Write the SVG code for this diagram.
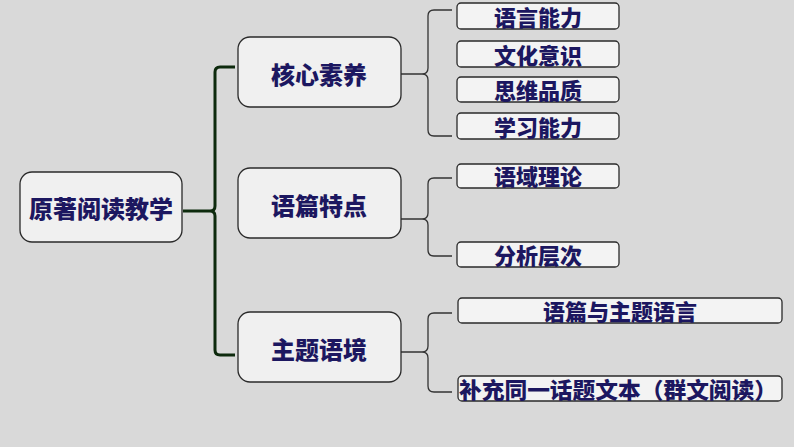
<svg xmlns="http://www.w3.org/2000/svg" width="794" height="447" viewBox="0 0 794 447">
<style>
.n{fill:#f0f0f0;stroke:#2a2a2a;stroke-width:1.3}
.l{fill:#f3f3f3;stroke:#2a2a2a;stroke-width:1.3}
text{font-family:"Noto Sans CJK SC",sans-serif;font-weight:900;fill:#1c1760;text-anchor:middle;dominant-baseline:central}
.b{font-size:24px}.s{font-size:22px}
.c{fill:none;stroke:#333;stroke-width:1.3}
.m{fill:none;stroke:#0d2a0d;stroke-width:3}
</style>
<rect width="794" height="447" fill="#d9d9d9"/>
<g id="connectors">
<path class="m" d="M183,211 H210 Q215,211 215,206 V72 Q215,67 220,67 H235 M210,211 Q215,211 215,216 V350 Q215,355 220,355 H235"/>
<path class="c" d="M401,74 H422 Q428,74 428,68 V16 Q428,10 434,10 H452 M422,74 Q428,74 428,80 V130 Q428,136 434,136 H452"/>
<path class="c" d="M401,219 H422 Q428,219 428,213 V184 Q428,178 434,178 H452 M422,219 Q428,219 428,225 V250 Q428,256 434,256 H452"/>
<path class="c" d="M401,352 H422 Q428,352 428,346 V319 Q428,313 434,313 H452 M422,352 Q428,352 428,358 V386 Q428,392 434,392 H452"/>
</g>
<g id="root"><rect class="n" x="20" y="172" width="162" height="70" rx="12"/><text class="b" x="101" y="207">原著阅读教学</text></g>
<g id="n1"><rect class="n" x="238" y="37" width="163" height="70" rx="12"/><text class="b" x="319" y="73">核心素养</text></g>
<g id="n2"><rect class="n" x="238" y="168" width="163" height="70" rx="12"/><text class="b" x="319" y="204">语篇特点</text></g>
<g id="n3"><rect class="n" x="238" y="312" width="163" height="70" rx="12"/><text class="b" x="319" y="348">主题语境</text></g>
<g id="l1"><rect class="l" x="457" y="3" width="162" height="26" rx="4"/><text class="s" x="538" y="16">语言能力</text></g>
<g id="l2"><rect class="l" x="457" y="41" width="162" height="26" rx="4"/><text class="s" x="538" y="54">文化意识</text></g>
<g id="l3"><rect class="l" x="457" y="77" width="162" height="25" rx="4"/><text class="s" x="538" y="89">思维品质</text></g>
<g id="l4"><rect class="l" x="457" y="113" width="162" height="26" rx="4"/><text class="s" x="538" y="126">学习能力</text></g>
<g id="l5"><rect class="l" x="457" y="164" width="162" height="24" rx="4"/><text class="s" x="538" y="175">语域理论</text></g>
<g id="l6"><rect class="l" x="457" y="242" width="162" height="25" rx="4"/><text class="s" x="538" y="254">分析层次</text></g>
<g id="l7"><rect class="l" x="458" y="298" width="324" height="25" rx="4"/><text class="s" x="620" y="310">语篇与主题语言</text></g>
<g id="l8"><rect class="l" x="458" y="376" width="324" height="25" rx="4"/><text class="s" x="618" y="388" font-size="23" textLength="318" lengthAdjust="spacingAndGlyphs">补充同一话题文本（群文阅读）</text></g>
</svg>
